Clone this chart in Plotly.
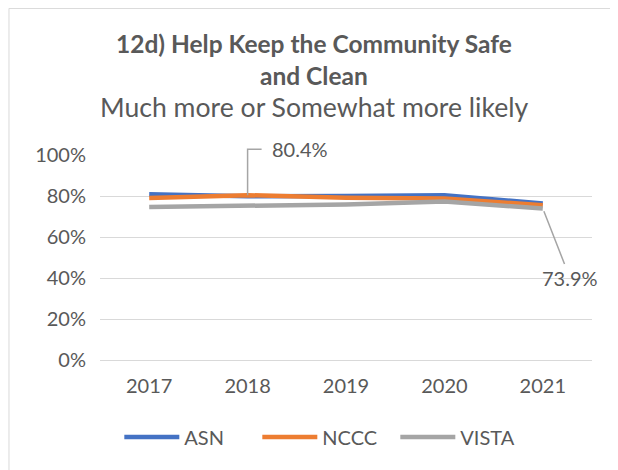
import plotly.graph_objects as go

years = ["2017", "2018", "2019", "2020", "2021"]
asn = [80.9, 79.9, 80.0, 80.4, 76.4]
nccc = [79.0, 80.4, 79.2, 78.8, 75.5]
vista = [74.6, 75.4, 75.9, 77.3, 73.9]
yticks = [0, 20, 40, 60, 80, 100]
ytick_labels = ["0%", "20%", "40%", "60%", "80%", "100%"]

font = "Lato"
grey = "#595959"
y_max = 100

fig = go.Figure()
for name, vals, col in [("ASN", asn, "#4472C4"), ("NCCC", nccc, "#ED7D31"), ("VISTA", vista, "#A5A5A5")]:
    fig.add_trace(go.Scatter(x=years, y=vals, name=name, mode="lines",
                             line=dict(color=col, width=4.5), hoverinfo="skip"))

fig.update_layout(
    width=610, height=462,
    margin=dict(l=92, r=26, t=147, b=110, autoexpand=False),
    paper_bgcolor="white", plot_bgcolor="white",
    font=dict(family=font, color=grey, size=20),
    xaxis=dict(type="category", range=[-0.5, 4.5], showgrid=False, showline=True,
               linecolor="#D9D9D9", ticks="", tickfont=dict(size=20, color=grey),
               ticklabelstandoff=8),
    yaxis=dict(range=[0, y_max], tickvals=yticks, ticktext=ytick_labels,
               gridcolor="#D9D9D9", gridwidth=1, zeroline=False, showline=False,
               ticks="", tickfont=dict(size=20, color=grey), ticklabelstandoff=13),
    showlegend=True,
    legend=dict(orientation="h", x=0.46, xanchor="center", y=-0.376, yanchor="middle",
                font=dict(size=20, color=grey), itemwidth=55,
                entrywidth=68, entrywidthmode="pixels"),
)

# Titles
fig.add_annotation(xref="paper", yref="paper", x=0.435, y=1.468,
                   text="<b>12d) Help Keep the Community Safe<br>and Clean</b>",
                   showarrow=False, xanchor="center", yanchor="middle", font=dict(size=24.5, color=grey))
fig.add_annotation(xref="paper", yref="paper", x=0.435, y=1.234, text="Much more or Somewhat more likely",
                   showarrow=False, xanchor="center", yanchor="middle", font=dict(size=26.6, color=grey))

# Leader line for 80.4% (elbow)
fig.add_shape(type="path", xref="x", yref="paper", xsizemode="pixel", ysizemode="pixel",
              xanchor=1, yanchor=nccc[1] / y_max,
              path="M0,0 L0,46 L14,46", line=dict(color="#A5A5A5", width=1.5))
fig.add_annotation(x=1, y=nccc[1], xref="x", yref="y", text="80.4%",
                   showarrow=False, xshift=22, yshift=46, xanchor="left", yanchor="middle",
                   font=dict(size=20, color=grey))
# 73.9% label
fig.add_annotation(x=4, y=vista[4], xref="x", yref="y", text="73.9%",
                   showarrow=True, arrowhead=0, arrowwidth=1.5, arrowcolor="#A5A5A5",
                   ax=27, ay=69, font=dict(size=20, color=grey), standoff=3)

# chart border
fig.add_shape(type="rect", xref="paper", yref="paper", x0=-0.185, x1=1.06, y0=-0.58, y1=1.715,
              line=dict(color="#D9D9D9", width=1), fillcolor="rgba(0,0,0,0)")

fig.write_html("out.html")
